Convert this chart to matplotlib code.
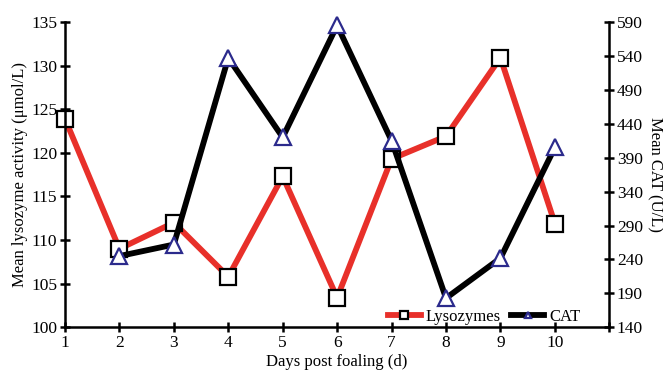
import numpy as np
import matplotlib.pyplot as plt

plt.rcParams['font.family'] = ['Liberation Serif', 'DejaVu Serif']

# --- data ---
days = [1, 2, 3, 4, 5, 6, 7, 8, 9, 10]
lysozyme = [123.9, 109.0, 112.0, 105.8, 117.3, 103.4, 119.3, 121.9, 130.9, 111.9]
cat = [np.nan, 245, 262, 537, 420, 585, 415, 183, 242, 405]  # no CAT value on day 1

left_ticks = [100, 105, 110, 115, 120, 125, 130, 135]
right_ticks = [140, 190, 240, 290, 340, 390, 440, 490, 540, 590]
x_ticks = [1, 2, 3, 4, 5, 6, 7, 8, 9, 10, 11]
x_labels = ['1', '2', '3', '4', '5', '6', '7', '8', '9', '10', '']

fig = plt.figure(figsize=(6.63, 3.78), dpi=100)
ax = fig.add_axes([0.098, 0.134, 0.821, 0.808])
ax2 = ax.twinx()

l1, = ax.plot(days, lysozyme, color='#e8302a', lw=4.2, marker='s', ms=12,
              mfc='white', mec='black', mew=1.6, label='Lysozymes', clip_on=False)
l2, = ax2.plot(days, cat, color='black', lw=4.2, marker='^', ms=11,
               mfc='white', mec='#2b2a8c', mew=1.6, label='CAT', clip_on=False)

ax.set_xlim(1, 11)
ax.set_ylim(100, 135)
ax2.set_ylim(140, 590)
ax.set_xticks(x_ticks)
ax.set_xticklabels(x_labels)
ax.set_yticks(left_ticks)
ax2.set_yticks(right_ticks)

for a in (ax, ax2):
    a.spines['top'].set_visible(False)
    for s in ('left', 'right', 'bottom'):
        a.spines[s].set_linewidth(1.8)
    a.tick_params(direction='inout', length=7, width=1.8, labelsize=12.5, pad=2)
ax.spines['right'].set_visible(False)
ax2.spines['left'].set_visible(False)
ax2.spines['bottom'].set_visible(False)

ax.set_xlabel('Days post foaling (d)', fontsize=12, labelpad=2)
ax.set_ylabel('Mean lysozyme activity (μmol/L)', fontsize=12, labelpad=2)
ax2.set_ylabel('Mean CAT (U/L)', fontsize=12, rotation=270, ha='center', va='center')
ax2.yaxis.set_label_coords(1.083, 0.5)

ax2.legend([l1, l2], ['Lysozymes', 'CAT'], loc='lower right',
           bbox_to_anchor=(0.975, -0.04), ncol=2, frameon=False, fontsize=12,
           markerscale=0.45, handlelength=2.0, handletextpad=0.3, columnspacing=0.6)

fig.savefig('out.png', dpi=100)
